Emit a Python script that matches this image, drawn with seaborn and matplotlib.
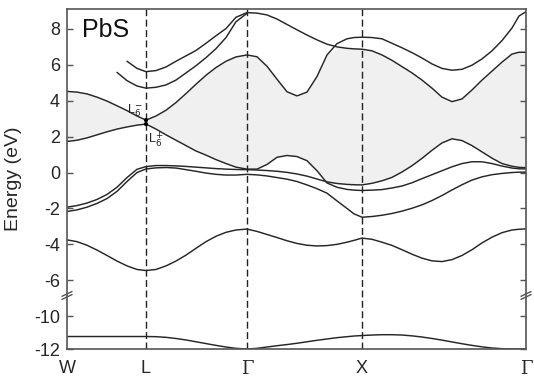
import numpy as np
import pandas as pd
import matplotlib
matplotlib.use("Agg")
import matplotlib.pyplot as plt
from matplotlib.ticker import NullLocator
import seaborn as sns

nan = np.nan

# positions along the W-L-Γ-X-Γ path
k = np.array([0, 10, 20, 30, 40, 50, 60, 70, 79,
              89, 99, 109, 119, 129, 139, 149, 159, 169, 180,
              190, 200, 210, 220, 230, 240, 250, 260, 270, 280, 287, 295,
              305, 315, 325, 335, 345, 355, 365, 375, 385, 395, 405, 415,
              425, 435, 445, 452, 459]) / 100.0
sym_k = [0.0, 0.79, 1.80, 2.95, 4.59]
sym_labels = ["W", "L", "Γ", "X", "Γ"]

# band energies (eV)
band_s = [-11.24] * 9 + [
    -11.25, -11.29, -11.36, -11.45, -11.56, -11.67, -11.78, -11.88, -11.96, -12.0,
    -11.96, -11.88, -11.80, -11.73, -11.65, -11.56, -11.47, -11.39, -11.31, -11.25, -11.21, -11.18,
    -11.15, -11.13, -11.13, -11.15, -11.20, -11.27, -11.36, -11.46, -11.57, -11.68, -11.78, -11.87,
    -11.94, -11.98, -12.0, -12.0, -12.0]
band_p1 = [
    -3.75, -3.85, -4.05, -4.32, -4.62, -4.93, -5.20, -5.40, -5.46,
    -5.40, -5.20, -4.93, -4.60, -4.22, -3.85, -3.55, -3.33, -3.20, -3.15,
    -3.28, -3.45, -3.62, -3.80, -3.95, -4.05, -4.09, -4.07, -4.00, -3.88, -3.78, -3.65,
    -3.72, -3.88, -4.06, -4.30, -4.55, -4.77, -4.92, -4.96, -4.85, -4.62, -4.30, -3.92,
    -3.60, -3.35, -3.20, -3.16, -3.14]
band_v1 = [
    -2.17, -2.08, -1.93, -1.72, -1.45, -1.05, -0.50, 0.00, 0.20,
    0.26, 0.28, 0.25, 0.16, 0.07, -0.03, -0.10, -0.14, -0.14, -0.10,
    -0.13, -0.19, -0.28, -0.37, -0.50, -0.69, -0.90, -1.15, -1.58, -2.00, -2.30, -2.49,
    -2.45, -2.38, -2.28, -2.15, -1.99, -1.80, -1.56, -1.28, -0.97, -0.68, -0.42, -0.24,
    -0.12, -0.05, 0.00, 0.02, 0.02]
band_v2 = [
    -1.93, -1.84, -1.70, -1.50, -1.22, -0.82, -0.28, 0.18, 0.33,
    0.39, 0.39, 0.37, 0.34, 0.30, 0.26, 0.22, 0.19, 0.17, 0.16,
    0.14, 0.11, 0.07, 0.01, -0.08, -0.20, -0.36, -0.52, -0.61, -0.66, -0.68, -0.69,
    -0.60, -0.46, -0.27, 0.03, 0.38, 0.79, 1.24, 1.65, 1.88, 1.78, 1.50, 1.15,
    0.80, 0.50, 0.35, 0.29, 0.27]
band_v3 = [
    1.73, 1.80, 1.93, 2.10, 2.27, 2.42, 2.54, 2.64, 2.70,
    2.42, 2.10, 1.80, 1.50, 1.20, 0.97, 0.72, 0.50, 0.30, 0.19,
    0.19, 0.45, 0.85, 0.95, 0.89, 0.66, 0.10, -0.58, -0.82, -0.94, -0.98, -1.00,
    -0.98, -0.95, -0.86, -0.75, -0.57, -0.34, -0.12, 0.10, 0.32, 0.50, 0.60, 0.60,
    0.50, 0.36, 0.25, 0.21, 0.20]
band_c1 = [
    4.52, 4.48, 4.38, 4.20, 3.98, 3.72, 3.45, 3.15, 2.92,
    3.15, 3.47, 3.90, 4.40, 4.92, 5.42, 5.85, 6.20, 6.44, 6.55,
    6.45, 5.92, 5.20, 4.50, 4.27, 4.48, 5.35, 6.55, 7.18, 7.45, 7.52, 7.54,
    7.52, 7.45, 7.20, 6.95, 6.68, 6.38, 6.05, 5.80, 5.70, 5.75, 5.98, 6.33,
    6.78, 7.35, 8.05, 8.72, 8.96]
band_c2 = [
    nan, nan, nan, nan, nan, nan, 6.20, 5.80, 5.62,
    5.68, 5.88, 6.20, 6.50, 6.80, 7.20, 7.62, 8.02, 8.65, 8.91,
    8.88, 8.78, 8.55, 8.25, 7.95, 7.66, 7.39, 7.15, 7.00, 6.92, 6.89, 6.87,
    6.78, 6.55, 6.25, 5.90, 5.55, 5.15, 4.70, 4.20, 3.95, 4.10, 4.60, 5.15,
    5.65, 6.15, 6.60, 6.70, 6.70]
band_c3 = [
    nan, nan, nan, nan, nan, 5.58, 5.12, 4.82, 4.70,
    4.75, 4.88, 5.15, 5.55, 5.95, 6.40, 6.90, 7.52, 8.40, 8.87] + [nan] * 29

bands = {"s": band_s, "p1": band_p1, "v1": band_v1, "v2": band_v2,
         "v3": band_v3, "c1": band_c1, "c2": band_c2, "c3": band_c3}

df = pd.concat(
    [pd.DataFrame({"k": k, "E": np.asarray(v, float), "band": name})
     for name, v in bands.items()],
    ignore_index=True).dropna()

# broken energy axis: compress the empty region between -6 and -10 eV
def fwd(e):
    e = np.asarray(e, float)
    return np.where(e >= -7, e,
                    np.where(e >= -10, -7 + (e + 7) / 3.0, -8 + (e + 10) * 0.915))

def inv(d):
    d = np.asarray(d, float)
    return np.where(d >= -7, d,
                    np.where(d >= -8, -7 + (d + 7) * 3.0, -10 + (d + 8) / 0.915))

sns.set_theme(style="white")
plt.rcParams["font.family"] = ["Liberation Sans", "DejaVu Sans"]

fig = plt.figure(figsize=(5.34, 3.77), dpi=100)
ax = fig.add_axes([67 / 534, 1 - 349 / 377, 459 / 534, 340 / 377])

line_col = "#262626"

# gap region between the highest valence and lowest conduction band
lower = np.nanmax(np.vstack([band_v1, band_v2, band_v3]), axis=0)
upper = np.fmin(np.asarray(band_c1, float), np.asarray(band_c2, float))
ax.fill_between(k, lower, upper, color="#f0f0f0", lw=0, zorder=0)

sns.lineplot(data=df, x="k", y="E", units="band", estimator=None, sort=False,
             color=line_col, lw=1.05, ax=ax, legend=False)

for xk in sym_k[1:4]:
    ax.axvline(xk, color="#222222", lw=1.0, dashes=(5, 2.5), zorder=1)

iL = 8
sns.scatterplot(x=[sym_k[1], sym_k[1]], y=[band_c1[iL], band_v3[iL]],
                color="black", s=9, edgecolor="none", ax=ax, zorder=5)
ax.text(sym_k[1] - 0.035, 3.45, r"L$^{-}_{6}$", ha="right", va="center",
        fontsize=9, color="#222222")
ax.text(sym_k[1] + 0.025, 1.85, r"L$^{+}_{6}$", ha="left", va="center",
        fontsize=9, color="#222222")

ax.set_yscale("function", functions=(fwd, inv))
ax.set_xlim(0, sym_k[-1])
ax.set_ylim(-12, 9.11)

yt = [-12, -10, -6, -4, -2, 0, 2, 4, 6, 8]
ax.set_yticks(yt)
ax.set_yticklabels([str(v) for v in yt])
ax.yaxis.set_minor_locator(NullLocator())
ax.set_xticks(sym_k)
ax.set_xticklabels(sym_labels)
for lab in ax.get_xticklabels():
    if lab.get_text() == "Γ":
        lab.set_family(["DejaVu Serif"])

ax.tick_params(axis="y", direction="in", left=True, right=True, length=4,
               width=1.0, color="#555555", labelsize=13, pad=5)
ax.tick_params(axis="x", length=0, labelsize=13, pad=8)
ax.set_xlabel("")
ax.set_ylabel("Energy (eV)", fontsize=14)
ax.yaxis.set_label_coords(-0.098, 0.5)

for sp in ax.spines.values():
    sp.set_color("#555555")
    sp.set_linewidth(1.2)

ax.text(0.032, 0.918, "PbS", transform=ax.transAxes, fontsize=18,
        ha="left", va="baseline", color="#111111")

# axis break marks on both vertical spines
yb = 0.153
for xs in (0.0, 1.0):
    for dy in (0.0, 0.009):
        ax.plot([xs - 0.011, xs + 0.011], [yb - 0.007 + dy, yb + 0.007 + dy],
                transform=ax.transAxes, color="#555555", lw=1.0, clip_on=False)

fig.savefig("out.png", dpi=100)
